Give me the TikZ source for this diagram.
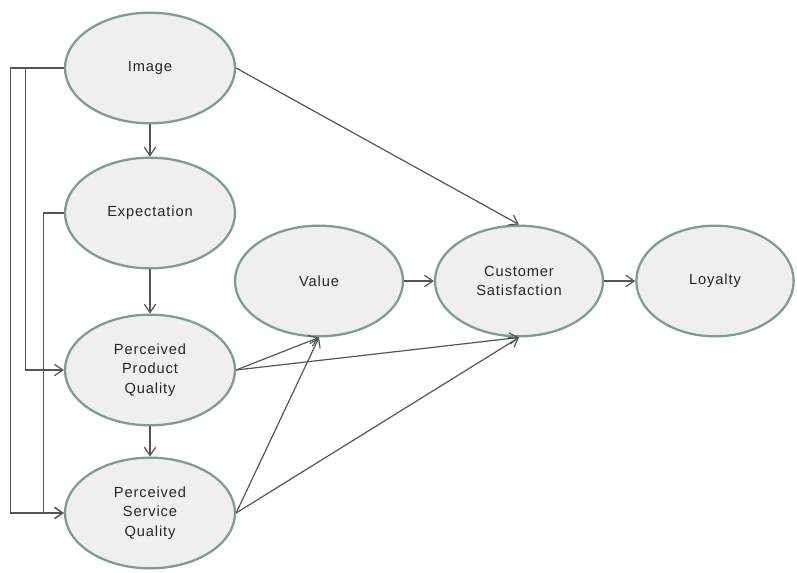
\documentclass[tikz,border=0pt]{standalone}
\usepackage{fontspec}
\setsansfont{Liberation Sans}[LetterSpace=6]
\usetikzlibrary{shapes.geometric, arrows.meta, positioning}
\definecolor{rimgreen}{HTML}{7E9C95}
\definecolor{bubblefill}{HTML}{EFEFEE}
\definecolor{linkgray}{HTML}{555555}

\begin{document}
\begin{tikzpicture}[
    x=0.75pt, y=0.75pt,
    on grid,
    construct/.style={ellipse, draw=rimgreen, line width=1.7pt, fill=bubblefill,
        minimum width=127.5pt, minimum height=83pt, inner sep=0pt,
        font=\sffamily\fontsize{11}{14.5}\selectfont, text=black!85, align=center},
    arr/.style={-{Straight Barb[length=2.2mm, width=3mm]}, draw=linkgray, line width=0.9pt},
]
\useasboundingbox (0,0) rectangle (797,-572);

\node[construct] (img) at (150,-68) {Image};
\node[construct, below=108.75pt of img] (exp) {Expectation};
\node[construct, below=117.75pt of exp] (ppq) {Perceived\\Product\\Quality};
\node[construct, below=107.25pt of ppq] (psq) {Perceived\\Service\\Quality};
\node[construct, minimum width=126pt] (val) at (319,-281) {Value};
\node[construct, minimum width=126pt, right=150pt of val] (cs) {Customer\\Satisfaction};
\node[construct, minimum width=118pt, right=147pt of cs] (loy) {Loyalty};

% chain down the left column
\foreach \a/\b in {img/exp, exp/ppq, ppq/psq} {
    \draw[arr] (\a) -- (\b);
}
\draw[arr] (val) -- (cs);
\draw[arr] (cs) -- (loy);

% bus lines on the left
\draw[arr] (img.west) -- ++(-53,0) |- (psq.west);
\draw[arr] (img.west) -- ++(-38,0) |- (ppq.west);
\draw[arr] (exp.west) -- ++(-20,0) |- (psq.west);

% paths to value and satisfaction
\draw[arr] (img.east) -- (cs.north);
\foreach \a in {ppq, psq} {
    \draw[arr] (\a.east) -- (val.south);
    \draw[arr] (\a.east) -- (cs.south);
}

\end{tikzpicture}
\end{document}
